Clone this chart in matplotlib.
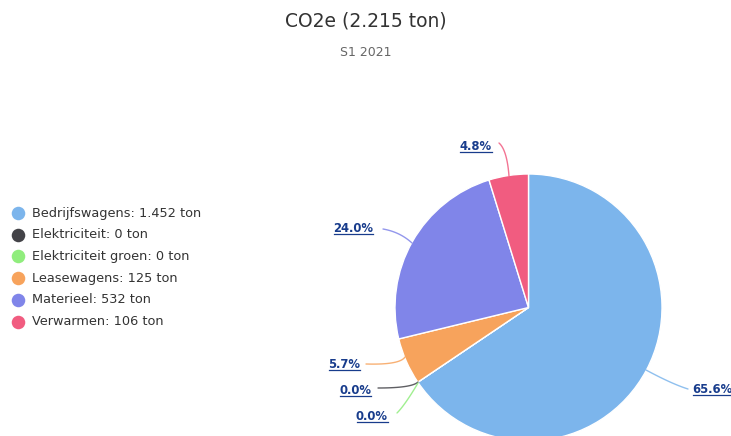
import matplotlib
matplotlib.use("Agg")
import matplotlib.pyplot as plt
import numpy as np

categories = ["Bedrijfswagens", "Elektriciteit", "Elektriciteit groen", "Leasewagens", "Materieel", "Verwarmen"]
values = [1452.3, 0.0, 0.0, 125.4, 531.8, 105.9]
legend_values = ["1.452", "0", "0", "125", "532", "106"]
colors = ["#7cb5ec", "#434348", "#90ed7d", "#f7a35c", "#8085e9", "#f15c80"]
title = "CO2e (2.215 ton)"
subtitle = "S1 2021"

W, H = 731, 436
fig = plt.figure(figsize=(W / 100, H / 100), dpi=100)
ax = fig.add_axes([0, 0, 1, 1])

def py(y):
    return H - y

cx, cy, r = 528.5, 307.5, 133.5
wedges, _ = ax.pie(values, colors=colors, startangle=90, counterclock=False,
                   center=(cx, py(cy)), radius=r, normalize=True,
                   wedgeprops=dict(edgecolor="white", linewidth=1.0))
ax.set_xlim(0, W)
ax.set_ylim(0, H)
ax.set_aspect("equal")
ax.axis("off")

total = sum(values)
pcts = [v / total * 100 for v in values]

label_layout = [
    ((646, 370), (672, 384), (688, 389)),
    ((418, 382), (412, 388), (378, 388)),
    ((418, 383), (405, 405), (397, 413)),
    ((405, 357), (400, 365), (366, 364)),
    ((412, 243), (400, 232), (383, 229)),
    ((509, 176), (507, 150), (499, 143)),
]
text_pos = [(692, 389, "left"), (371, 390, "right"), (388, 416, "right"),
            (360, 364, "right"), (373, 228, "right"), (492, 146, "right")]

tt = np.linspace(0, 1, 20)
label_texts = []
for i, (p, lay) in enumerate(zip(pcts, label_layout)):
    (x0, y0), (x1, y1), (x2, y2) = lay
    bx = (1 - tt) ** 2 * x0 + 2 * (1 - tt) * tt * x1 + tt ** 2 * x2
    by = (1 - tt) ** 2 * y0 + 2 * (1 - tt) * tt * y1 + tt ** 2 * y2
    ax.plot(bx, py(by), color=colors[i], lw=1.0, alpha=0.85,
            solid_capstyle="round")
    tx, ty, ha = text_pos[i]
    label_texts.append(ax.text(tx, py(ty), f"{p:.1f}%", ha=ha, va="center", fontsize=8.4,
                               fontweight="bold", color="#183c8c"))

fig.canvas.draw()
renderer = fig.canvas.get_renderer()
inv = ax.transData.inverted()
for t in label_texts:
    bb = t.get_window_extent(renderer)
    (xa, ya), (xb, yb) = inv.transform([(bb.x0, bb.y0), (bb.x1, bb.y0)])
    ax.plot([xa + 0.5, xb - 0.5], [ya + 0.5, yb + 0.5], color="#183c8c", lw=0.9)

for i, (c, v) in enumerate(zip(categories, legend_values)):
    yy = 213 + i * 21.7
    ax.scatter([18], [py(yy)], s=95, color=colors[i], zorder=3, linewidths=0)
    ax.text(32, py(yy), f"{c}: {v} ton", ha="left", va="center", fontsize=9.3,
            color="#333333")

ax.text(366, py(21), title, ha="center", va="center", fontsize=13.5, color="#333333")
ax.text(366, py(53), subtitle, ha="center", va="center", fontsize=9, color="#666666")

fig.savefig("out.png", dpi=100)
